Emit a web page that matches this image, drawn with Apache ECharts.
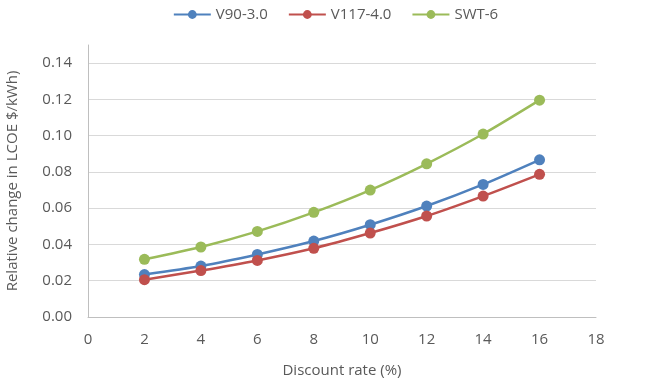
<!DOCTYPE html>
<html><head><meta charset="utf-8">
<script src="https://cdn.jsdelivr.net/npm/echarts@6/dist/echarts.min.js"></script>
<style>html,body{margin:0;padding:0;background:#fff}#c{width:671px;height:378px}</style>
</head><body><div id="c"></div>
<script>
const discountRate = [2, 4, 6, 8, 10, 12, 14, 16];
const v90 = [0.0234, 0.0281, 0.0345, 0.0419, 0.0509, 0.0612, 0.0731, 0.0867];
const v117 = [0.0206, 0.0256, 0.0312, 0.0379, 0.0463, 0.0557, 0.0667, 0.0787];
const swt6 = [0.0318, 0.0386, 0.0472, 0.0577, 0.0700, 0.0845, 0.1009, 0.1196];
const seriesNames = ['V90-3.0', 'V117-4.0', 'SWT-6'];
const colors = ['#4F81BD', '#C0504D', '#9BBB59'];

const font = 'Open Sans';
const txt = '#595959';
function pts(arr){ return discountRate.map((x,i)=>[x, arr[i]]); }
const chart = echarts.init(document.getElementById('c'));
chart.setOption({
  animation: false,
  legend: {
    top: 2, left: 'center', itemWidth: 37, itemHeight: 11, itemGap: 20,
    textStyle: {fontFamily: font, fontSize: 15, color: txt},
    data: seriesNames
  },
  grid: {left: 88, right: 75, top: 45, bottom: 61, outerBoundsMode: 'none', containLabel: false},
  xAxis: {
    type: 'value', min: 0, max: 18, interval: 2,
    name: 'Discount rate (%)', nameLocation: 'middle', nameGap: 46,
    nameTextStyle: {fontFamily: font, fontSize: 15, color: txt},
    axisLine: {show: true, lineStyle: {color: '#BFBFBF', width: 1}},
    axisTick: {show: false},
    splitLine: {show: false},
    axisLabel: {fontFamily: font, fontSize: 15, color: txt, margin: 15}
  },
  yAxis: {
    type: 'value', min: 0, max: 0.15, interval: 0.02,
    name: 'Relative change in LCOE $/kWh)', nameLocation: 'middle', nameGap: 68,
    nameTextStyle: {fontFamily: font, fontSize: 15, color: txt},
    axisLine: {show: true, lineStyle: {color: '#BFBFBF', width: 1}},
    axisTick: {show: false},
    splitLine: {show: true, lineStyle: {color: ['#D9D9D9','#D9D9D9','#D9D9D9','#D9D9D9','#D9D9D9','#D9D9D9','#D9D9D9','#D9D9D9','rgba(0,0,0,0)'], width: 1}},
    axisLabel: {fontFamily: font, fontSize: 15, color: txt, margin: 16,
      formatter: v => (Math.abs(v/0.02 - Math.round(v/0.02)) < 1e-6) ? v.toFixed(2) : ''}
  },
  series: [v90, v117, swt6].map((d, i) => ({
    name: seriesNames[i], type: 'line', data: pts(d),
    smooth: 0.25, symbol: 'circle', symbolSize: 11,
    lineStyle: {color: colors[i], width: 2.5},
    itemStyle: {color: colors[i]}
  }))
});
</script></body></html>
